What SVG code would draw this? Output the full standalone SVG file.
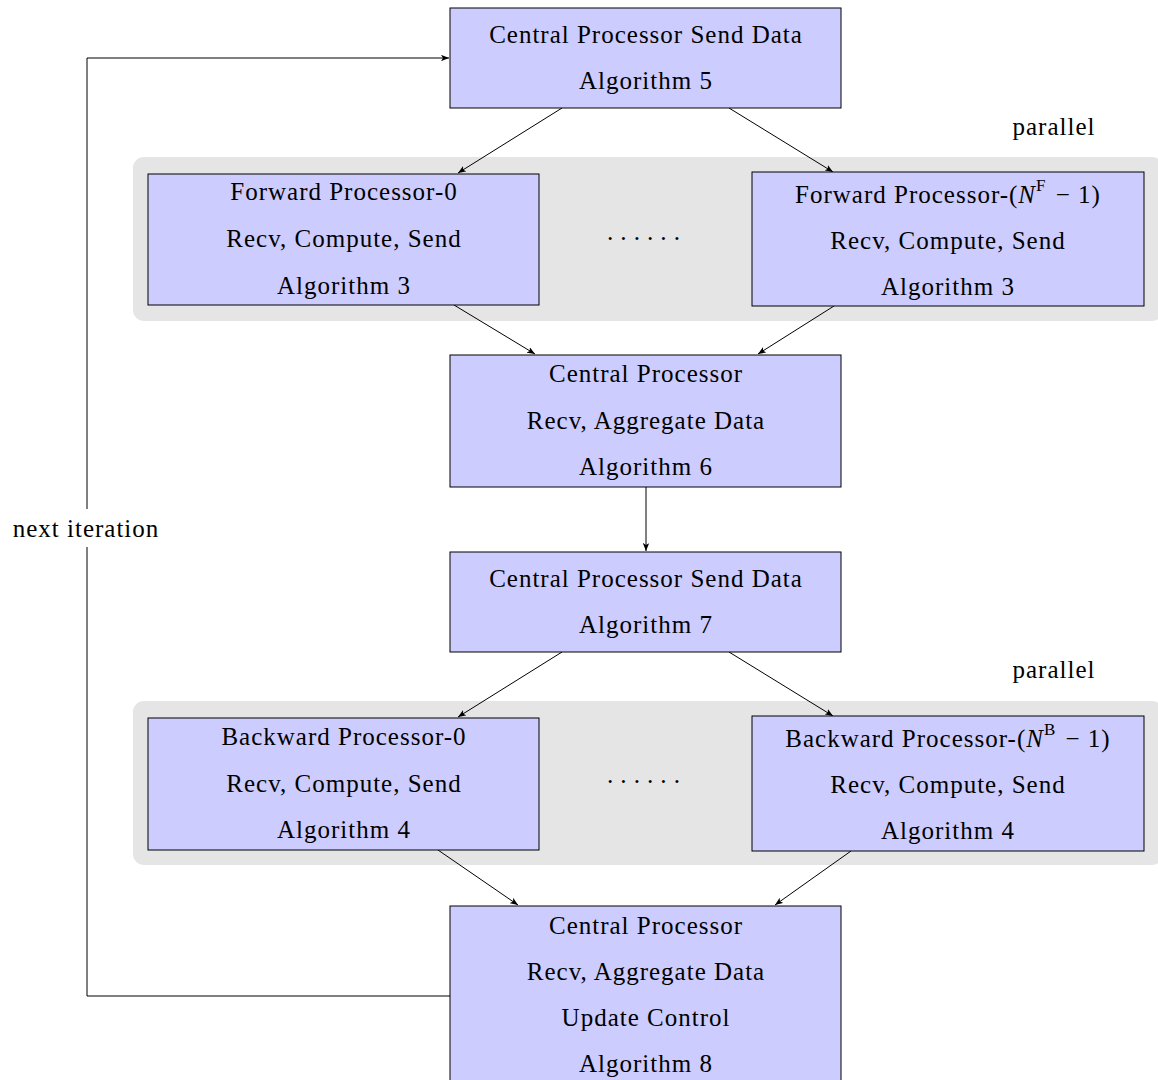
<svg xmlns="http://www.w3.org/2000/svg" width="1158" height="1080" viewBox="0 0 1158 1080">
<style>
.box{fill:#ccccff;stroke:#000;stroke-width:1}
.band{fill:#e5e5e5}
text{font-family:"Liberation Serif","DejaVu Serif",serif;font-size:25px;letter-spacing:1px;fill:#000;text-anchor:middle;dominant-baseline:central}
text.dots{letter-spacing:5px}
.c{stroke:#000;stroke-width:1;fill:none}
</style>
<defs>
<marker id="ah" viewBox="0 0 10 8" refX="10" refY="4" markerWidth="8" markerHeight="6.4" orient="auto" markerUnits="userSpaceOnUse">
<path d="M0,0 L10,4 L0,8 L2.5,4 Z" fill="#000"/>
</marker>
</defs>
<rect class="band" x="133" y="157" width="1030" height="164" rx="11"/>
<rect class="band" x="133" y="701" width="1030" height="164" rx="11"/>
<text x="1054" y="126">parallel</text>
<text x="1054" y="669">parallel</text>
<text class="dots" x="646" y="238">······</text>
<text class="dots" x="646" y="781">······</text>
<g id="connectors">
<line class="c" x1="562" y1="108" x2="458" y2="173" marker-end="url(#ah)"/>
<line class="c" x1="729" y1="108" x2="833" y2="172" marker-end="url(#ah)"/>
<line class="c" x1="454" y1="305" x2="535" y2="354" marker-end="url(#ah)"/>
<line class="c" x1="834" y1="306" x2="758" y2="354" marker-end="url(#ah)"/>
<line class="c" x1="646" y1="487" x2="646" y2="551" marker-end="url(#ah)"/>
<line class="c" x1="562" y1="652" x2="458" y2="717" marker-end="url(#ah)"/>
<line class="c" x1="729" y1="652" x2="833" y2="716" marker-end="url(#ah)"/>
<line class="c" x1="438" y1="850" x2="518" y2="905" marker-end="url(#ah)"/>
<line class="c" x1="851" y1="851" x2="775" y2="905" marker-end="url(#ah)"/>
<polyline class="c" points="450,996 87,996 87,547"/>
<polyline class="c" points="87,509 87,58 449,58" marker-end="url(#ah)"/>
<text x="86" y="528">next iteration</text>
</g>
<g id="nodeA">
<rect class="box" x="450" y="8" width="391" height="100"/>
<text x="646" y="34">Central Processor Send Data</text>
<text x="646" y="80">Algorithm 5</text>
</g>
<g id="nodeFP0">
<rect class="box" x="148" y="174" width="391" height="131"/>
<text x="344" y="191">Forward Processor-0</text>
<text x="344" y="238">Recv, Compute, Send</text>
<text x="344" y="285">Algorithm 3</text>
</g>
<g id="nodeFPN">
<rect class="box" x="752" y="172" width="392" height="134"/>
<text x="948" y="194">Forward Processor-(<tspan font-style="italic">N</tspan><tspan font-size="17" dy="-9">F</tspan><tspan dy="9" dx="2"> − 1)</tspan></text>
<text x="948" y="240">Recv, Compute, Send</text>
<text x="948" y="286">Algorithm 3</text>
</g>
<g id="nodeC">
<rect class="box" x="450" y="355" width="391" height="132"/>
<text x="646" y="373">Central Processor</text>
<text x="646" y="420">Recv, Aggregate Data</text>
<text x="646" y="466">Algorithm 6</text>
</g>
<g id="nodeD">
<rect class="box" x="450" y="552" width="391" height="100"/>
<text x="646" y="578">Central Processor Send Data</text>
<text x="646" y="624">Algorithm 7</text>
</g>
<g id="nodeBP0">
<rect class="box" x="148" y="718" width="391" height="132"/>
<text x="344" y="736">Backward Processor-0</text>
<text x="344" y="783">Recv, Compute, Send</text>
<text x="344" y="829">Algorithm 4</text>
</g>
<g id="nodeBPN">
<rect class="box" x="752" y="716" width="392" height="135"/>
<text x="948" y="738">Backward Processor-(<tspan font-style="italic">N</tspan><tspan font-size="17" dy="-9">B</tspan><tspan dy="9" dx="2"> − 1)</tspan></text>
<text x="948" y="784">Recv, Compute, Send</text>
<text x="948" y="830">Algorithm 4</text>
</g>
<g id="nodeF">
<rect class="box" x="450" y="906" width="391" height="190"/>
<text x="646" y="925">Central Processor</text>
<text x="646" y="971">Recv, Aggregate Data</text>
<text x="646" y="1017">Update Control</text>
<text x="646" y="1063">Algorithm 8</text>
</g>
</svg>
